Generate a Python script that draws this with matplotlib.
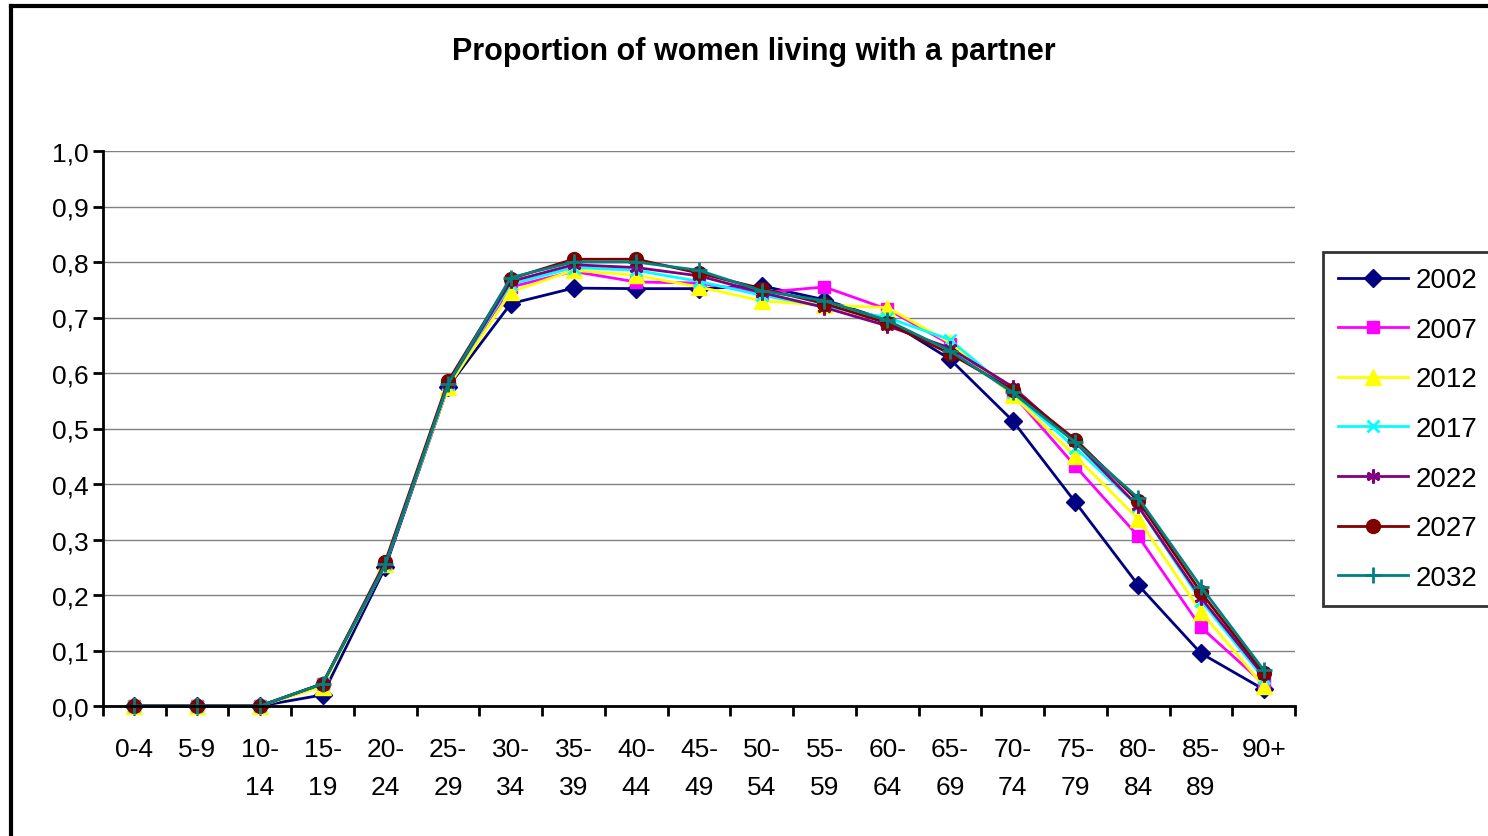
import matplotlib
matplotlib.use("Agg")
import matplotlib.pyplot as plt
from matplotlib.lines import Line2D

plt.rcParams['font.family'] = ['Liberation Sans', 'DejaVu Sans']

categories = ["0-4", "5-9", "10-\n14", "15-\n19", "20-\n24", "25-\n29", "30-\n34", "35-\n39",
              "40-\n44", "45-\n49", "50-\n54", "55-\n59", "60-\n64", "65-\n69", "70-\n74",
              "75-\n79", "80-\n84", "85-\n89", "90+"]

s2002 = [0, 0, 0, 0.02, 0.25, 0.575, 0.725, 0.753, 0.752, 0.752, 0.757, 0.732, 0.695, 0.625, 0.514, 0.367, 0.218, 0.095, 0.03]
s2007 = [0, 0, 0, 0.04, 0.255, 0.58, 0.755, 0.783, 0.764, 0.762, 0.745, 0.755, 0.715, 0.652, 0.562, 0.432, 0.306, 0.142, 0.04]
s2012 = [0, 0, 0, 0.035, 0.255, 0.575, 0.746, 0.785, 0.776, 0.755, 0.73, 0.722, 0.718, 0.655, 0.56, 0.45, 0.337, 0.17, 0.036]
s2017 = [0, 0, 0, 0.04, 0.255, 0.58, 0.76, 0.79, 0.785, 0.765, 0.74, 0.72, 0.70, 0.66, 0.565, 0.465, 0.36, 0.19, 0.05]
s2022 = [0, 0, 0, 0.04, 0.255, 0.58, 0.765, 0.795, 0.79, 0.775, 0.745, 0.718, 0.685, 0.645, 0.575, 0.475, 0.36, 0.195, 0.055]
s2027 = [0, 0, 0, 0.04, 0.26, 0.585, 0.77, 0.805, 0.805, 0.78, 0.752, 0.725, 0.69, 0.635, 0.57, 0.48, 0.37, 0.205, 0.06]
s2032 = [0, 0, 0, 0.04, 0.255, 0.58, 0.772, 0.80, 0.80, 0.785, 0.748, 0.73, 0.695, 0.64, 0.565, 0.475, 0.375, 0.215, 0.065]

series_names = ["2002", "2007", "2012", "2017", "2022", "2027", "2032"]
series_values = [s2002, s2007, s2012, s2017, s2022, s2027, s2032]
colors = ["#000080", "#FF00FF", "#FFFF00", "#00FFFF", "#800080", "#800000", "#008080"]
markers = ["D", "s", "^", "x", (6, 2, 0), "o", "+"]
msizes = [9, 9, 11, 9, 10, 10, 11]

fig = plt.figure(figsize=(14.88, 8.37), dpi=100)
ax = fig.add_axes([103/1488, 1 - 707/837, (1295 - 103)/1488, (707 - 152)/837])

x = list(range(len(categories)))
for name, vals, c, m, ms in zip(series_names, series_values, colors, markers, msizes):
    mew = 2 if m in ("x", "+") or isinstance(m, tuple) else 1
    ax.plot(x, vals, color=c, marker=m, markersize=ms, markeredgecolor=c,
            markerfacecolor=c, markeredgewidth=mew, linewidth=2, label=name, clip_on=False)

ax.set_xlim(-0.5, len(categories) - 0.5)
ax.set_ylim(0, 1.0)
yt = [i / 10 for i in range(11)]
ax.set_yticks(yt)
ax.set_yticklabels([f"{v:.1f}".replace(".", ",") for v in yt], fontsize=19)
ax.set_xticks(x)
ax.set_xticklabels(categories, fontsize=19, linespacing=1.75, va="top")
ax.set_xticks([i - 0.5 for i in range(len(categories) + 1)], minor=True)
ax.tick_params(axis="x", which="major", length=0, pad=22)
ax.tick_params(axis="x", which="minor", length=7, width=2, direction="out")
ax.tick_params(axis="y", length=7, width=2, direction="out", pad=3)
ax.grid(axis="y", color="#808080", linewidth=1)
ax.set_axisbelow(True)
for s in ("top", "right"):
    ax.spines[s].set_visible(False)
for s in ("left", "bottom"):
    ax.spines[s].set_linewidth(2)
    ax.spines[s].set_color("black")

fig.text(754/1488, 1 - 52/837, "Proportion of women living with a partner",
         ha="center", va="center", fontsize=22, fontweight="bold")

leg = fig.legend(loc="upper left", bbox_to_anchor=(1323/1488, 1 - 253/837), fontsize=20,
                 frameon=True, fancybox=False, edgecolor="black", handlelength=2.5,
                 labelspacing=0.85, borderpad=0.55, handletextpad=0.3, borderaxespad=0)
leg.get_frame().set_linewidth(2)

# outer chart frame
fig.add_artist(Line2D([11/1488, 11/1488], [0, 1 - 7/837], transform=fig.transFigure, color="black", linewidth=3))
fig.add_artist(Line2D([11/1488, 1], [1 - 7/837, 1 - 7/837], transform=fig.transFigure, color="black", linewidth=3))

fig.savefig("out.png", dpi=100)
